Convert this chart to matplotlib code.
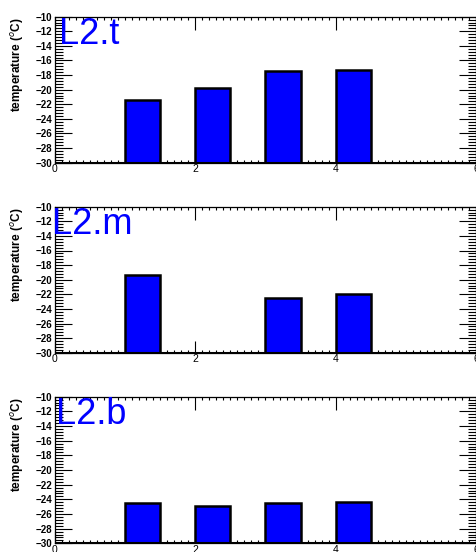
import numpy as np
import matplotlib.pyplot as plt
from matplotlib.ticker import MultipleLocator

plt.rcParams['font.family'] = ['Liberation Sans', 'DejaVu Sans']

bin_left = [1, 2, 3, 4]
bin_width = 0.5
labels = ['L2.t', 'L2.m', 'L2.b']
temp_t = [-21.4, -19.7, -17.4, -17.3]
temp_m = [-19.3, np.nan, -22.55, -21.9]
temp_b = [-24.5, -24.95, -24.55, -24.35]
series = [temp_t, temp_m, temp_b]

ymin, ymax = -30, -10
xmin, xmax = 0, 6

fig = plt.figure(figsize=(4.77, 5.52), dpi=100)

# axes boxes in pixels (left, top, right, bottom)
W, H = 477, 552
boxes = [(55, 16.7, 476, 162.7), (55, 206.7, 476, 352.7), (55, 396.7, 476, 543.3)]
text_pos = [(59, 43.5), (52, 234), (56, 424)]

for i in range(3):
    l, t, r, b = boxes[i]
    ax = fig.add_axes([l / W, 1 - b / H, (r - l) / W, (b - t) / H])
    vals = np.array(series[i])
    ok = ~np.isnan(vals)
    ax.bar(np.array(bin_left)[ok], vals[ok] - ymin, width=bin_width, bottom=ymin,
           align='edge', color='#0000ff', edgecolor='black', linewidth=1.8, zorder=2)
    ax.axhline(ymin, color='black', linewidth=2.2, zorder=3)
    ax.set_xlim(xmin, xmax)
    ax.set_ylim(ymin, ymax)

    ax.xaxis.set_major_locator(MultipleLocator(2))
    ax.xaxis.set_minor_locator(MultipleLocator(0.1))
    ax.yaxis.set_major_locator(MultipleLocator(2))
    ax.yaxis.set_minor_locator(MultipleLocator(0.4))
    ax.tick_params(axis='both', which='both', direction='in', top=True, right=True,
                   width=0.8, color='black')
    ax.tick_params(axis='y', which='major', length=12, labelsize=7, pad=2)
    ax.tick_params(axis='y', which='minor', length=6)
    ax.tick_params(axis='x', which='major', length=9, labelsize=7.5, pad=1)
    ax.tick_params(axis='x', which='minor', length=2.5)
    for lab in ax.get_yticklabels():
        lab.set_fontweight('bold')
    for s in ax.spines.values():
        s.set_linewidth(0.9)

    ax.set_ylabel('temperature ($^{o}$C)', fontsize=8.5, fontweight='bold')
    ax.yaxis.set_label_coords(-0.07, 0.67)

    tx, ty = text_pos[i]
    fig.text(tx / W, 1 - ty / H, labels[i], color='#0000ff', fontsize=26,
             ha='left', va='baseline')

fig.savefig('out.png', dpi=100)
